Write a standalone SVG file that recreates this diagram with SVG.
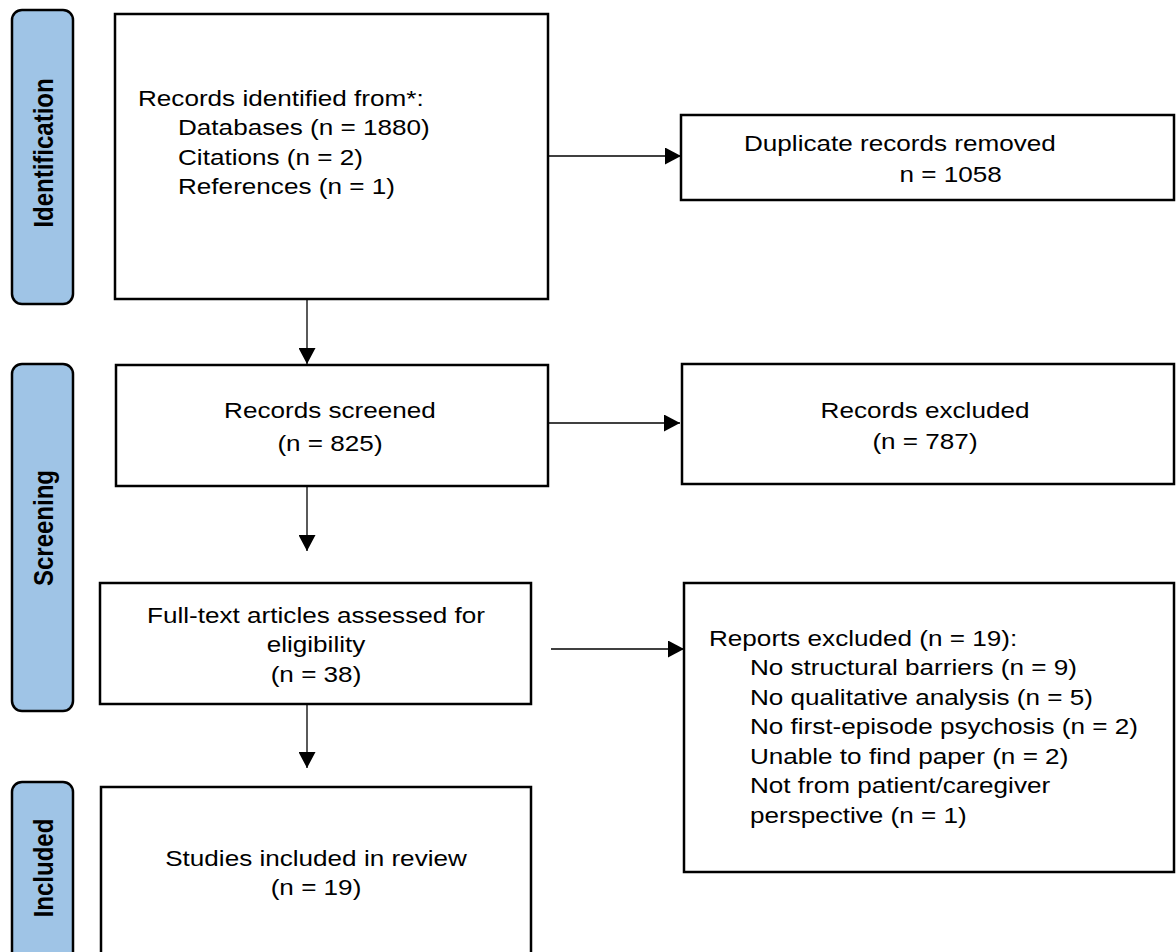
<svg xmlns="http://www.w3.org/2000/svg" width="1176" height="952" viewBox="0 0 1176 952">
<defs>
<style>
.bg{fill:#ffffff}
.phase{fill:#9fc4e6;stroke:#000;stroke-width:2.5}
.box{fill:#fff;stroke:#000;stroke-width:2.5}
.lbl{font-family:"Liberation Sans",Arial,sans-serif;font-size:24px;font-weight:bold;fill:#000}
.t{font-family:"Liberation Sans",Arial,sans-serif;font-size:22.5px;fill:#000}
.c{text-anchor:middle}
.conn{stroke:#000;stroke-width:1.3;fill:none;marker-end:url(#ah)}
</style>
<marker id="ah" markerUnits="userSpaceOnUse" markerWidth="17" markerHeight="17" refX="16" refY="8.5" orient="auto">
<path d="M0,0 L16,8.5 L0,17 Z" fill="#000"/>
</marker>
</defs>
<rect class="bg" x="0" y="0" width="1176" height="952"/>

<g id="phase-identification">
<rect class="phase" x="12" y="10" width="61" height="294" rx="10"/>
<text class="lbl c" transform="translate(52.5 153) scale(1.14 1) rotate(-90)">Identification</text>
</g>
<g id="phase-screening">
<rect class="phase" x="12" y="364" width="61" height="347" rx="10"/>
<text class="lbl c" transform="translate(52.5 528) scale(1.14 1) rotate(-90)">Screening</text>
</g>
<g id="phase-included">
<rect class="phase" x="12" y="782" width="61" height="190" rx="10"/>
<text class="lbl c" transform="translate(52.5 868) scale(1.14 1) rotate(-90)">Included</text>
</g>

<g id="connectors">
<line class="conn" x1="307" y1="299" x2="307" y2="364"/>
<line class="conn" x1="307" y1="486" x2="307" y2="551"/>
<line class="conn" x1="307" y1="704" x2="307" y2="768"/>
<line class="conn" x1="548" y1="156" x2="681" y2="156"/>
<line class="conn" x1="548" y1="423" x2="680" y2="423"/>
<line class="conn" x1="551" y1="649" x2="684" y2="649"/>
</g>

<g id="node-identified">
<rect class="box" x="115" y="14" width="433" height="285"/>
<g transform="translate(138 0) scale(1.16 1)">
<text class="t" x="0" y="106">Records identified from*:</text>
<text class="t" x="34.5" y="135.5">Databases (n = 1880)</text>
<text class="t" x="34.5" y="165">Citations (n = 2)</text>
<text class="t" x="34.5" y="194">References (n = 1)</text>
</g>
</g>

<g id="node-duplicates">
<rect class="box" x="681" y="115" width="493" height="85"/>
<g transform="translate(744 0) scale(1.16 1)">
<text class="t" x="0" y="151">Duplicate records removed</text>
<text class="t" x="134" y="182">n = 1058</text>
</g>
</g>

<g id="node-screened">
<rect class="box" x="116" y="365" width="432" height="121"/>
<g transform="translate(330 0) scale(1.16 1)">
<text class="t c" x="0" y="418">Records screened</text>
<text class="t c" x="0" y="451">(n = 825)</text>
</g>
</g>

<g id="node-excluded">
<rect class="box" x="682" y="364" width="492" height="120"/>
<g transform="translate(925 0) scale(1.16 1)">
<text class="t c" x="0" y="418">Records excluded</text>
<text class="t c" x="0" y="449">(n = 787)</text>
</g>
</g>

<g id="node-fulltext">
<rect class="box" x="100" y="583" width="431" height="121"/>
<g transform="translate(316 0) scale(1.16 1)">
<text class="t c" x="0" y="623">Full-text articles assessed for</text>
<text class="t c" x="0" y="652.5">eligibility</text>
<text class="t c" x="0" y="682">(n = 38)</text>
</g>
</g>

<g id="node-reports-excluded">
<rect class="box" x="684" y="583" width="490" height="289"/>
<g transform="translate(709 0) scale(1.16 1)">
<text class="t" x="0" y="646">Reports excluded (n = 19):</text>
<text class="t" x="35.3" y="675.5">No structural barriers (n = 9)</text>
<text class="t" x="35.3" y="705">No qualitative analysis (n = 5)</text>
<text class="t" x="35.3" y="734.5">No first-episode psychosis (n = 2)</text>
<text class="t" x="35.3" y="764">Unable to find paper (n = 2)</text>
<text class="t" x="35.3" y="793.5">Not from patient/caregiver</text>
<text class="t" x="35.3" y="823">perspective (n = 1)</text>
</g>
</g>

<g id="node-included">
<rect class="box" x="101" y="787" width="430" height="190"/>
<g transform="translate(316 0) scale(1.16 1)">
<text class="t c" x="0" y="866">Studies included in review</text>
<text class="t c" x="0" y="895">(n = 19)</text>
</g>
</g>
</svg>
